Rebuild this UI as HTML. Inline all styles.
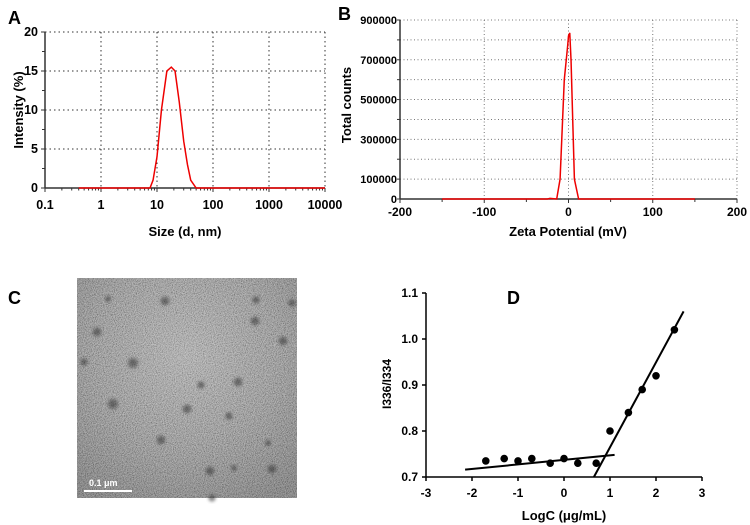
<!DOCTYPE html>
<html><head><meta charset="utf-8"><style>
body{margin:0;background:#fff;}
svg{display:block;font-family:"Liberation Sans",Arial,sans-serif;font-weight:bold;}
</style></head><body>
<svg width="750" height="525" viewBox="0 0 750 525">
<defs>
<filter id="noise" x="0" y="0" width="100%" height="100%">
<feTurbulence type="fractalNoise" baseFrequency="1.1" numOctaves="1" seed="3" result="n"/>
<feColorMatrix in="n" type="matrix" values="1.6 0 0 0 -0.3  1.6 0 0 0 -0.3  1.6 0 0 0 -0.3  0 0 0 0 1"/>
</filter>
<filter id="blur"><feGaussianBlur stdDeviation="1.2"/></filter>
<radialGradient id="pt"><stop offset="0" stop-color="#2a2a2a"/><stop offset="0.55" stop-color="#333" stop-opacity="0.75"/><stop offset="1" stop-color="#555" stop-opacity="0"/></radialGradient>
<radialGradient id="vig" cx="0.5" cy="0.35" r="0.75"><stop offset="0" stop-color="#9c9c9c"/><stop offset="1" stop-color="#6a6a6a"/></radialGradient>
</defs>
<g id="gA"></g>
<g id="gB"></g>
<g id="gC"></g>
<g id="gD"></g>
</svg>
<script>
// Panel A data (size in nm, intensity %)
const sizeA=[0.4,7.5,8.5,10,12,15,18,21,25,30,35,40,50,10000];
const intA=[0,0,1,4,10,15,15.5,15,11,6,3,1,0,0];
const aXTicks=[0.1,1,10,100,1000,10000];
const aYTicks=[0,5,10,15,20];
// Panel B data (mV, counts)
const zetaB=[-150,-25,-22,-14,-10,-5,-1,0,1.5,3,7,12,150];
const countsB=[0,0,3000,0,100000,600000,770000,820000,835000,700000,100000,0,0];
const bXTicks=[-200,-100,0,100,200];
const bYTicks=[0,100000,300000,500000,700000,900000];
// Panel D data
const logC=[-1.7,-1.3,-1,-0.7,-0.3,0,0.3,0.7,1,1.4,1.7,2,2.4];
const ratioD=[0.735,0.74,0.735,0.74,0.73,0.74,0.73,0.73,0.8,0.84,0.89,0.92,1.02];
const fit1X=[-2.15,1.1], fit1Y=[0.716,0.748];
const fit2X=[0.65,2.6], fit2Y=[0.7,1.06];
const dXTicks=[-3,-2,-1,0,1,2,3];
const dYTicks=[0.7,0.8,0.9,1.0,1.1];

const NS="http://www.w3.org/2000/svg";
function mk(p,t,a,txt){const e=document.createElementNS(NS,t);for(const k in a)e.setAttribute(k,a[k]);if(txt!==undefined)e.textContent=txt;p.appendChild(e);return e;}

// ---------- Panel A ----------
const A=document.getElementById('gA');
const axL=45,axR=325,ayT=32,ayB=188;
const ax=v=>axL+(Math.log10(v)+1)/5*(axR-axL);
const ay=v=>ayB-v/20*(ayB-ayT);
let t=mk(A,'text',{x:8,y:24,'font-size':18},'A');

aYTicks.forEach(v=>{if(v>0){const l=mk(A,'line',{x1:axL,x2:axR,y1:ay(v),y2:ay(v),stroke:'#333','stroke-dasharray':'1.5 3'});}
 mk(A,'line',{x1:axL-4,x2:axL,y1:ay(v),y2:ay(v),stroke:'#333'});
 const tx=mk(A,'text',{x:axL-7,y:ay(v)+4,'font-size':12.5,'text-anchor':'end'},String(v));});
for(let v=2.5;v<20;v+=5){mk(A,'line',{x1:axL-3,x2:axL,y1:ay(v),y2:ay(v),stroke:'#333'});}
aXTicks.forEach(v=>{if(v>0.1){const l=mk(A,'line',{x1:ax(v),x2:ax(v),y1:ayT,y2:ayB,stroke:'#333','stroke-dasharray':'1.5 3'});}
 mk(A,'line',{x1:ax(v),x2:ax(v),y1:ayB,y2:ayB+4,stroke:'#333'});
 const tx=mk(A,'text',{x:ax(v),y:209,'font-size':12.5,'text-anchor':'middle'},String(v));
 if(v<10000)for(let m=2;m<10;m++)mk(A,'line',{x1:ax(v*m),x2:ax(v*m),y1:ayB,y2:ayB+2.5,stroke:'#333'});});
mk(A,'line',{x1:axL,x2:axL,y1:ayT,y2:ayB,stroke:'#333','stroke-width':1.5});
mk(A,'line',{x1:axL,x2:axR,y1:ayB,y2:ayB,stroke:'#333','stroke-width':1.5});
let pa=mk(A,'polyline',{points:sizeA.map((s,i)=>ax(s)+','+ay(intA[i])).join(' '),fill:'none',stroke:'#e00','stroke-width':1.5});

t=mk(A,'text',{x:185,y:236,'font-size':13,'text-anchor':'middle'},'Size (d, nm)');
t=mk(A,'text',{x:0,y:0,'font-size':13,'text-anchor':'middle',transform:'translate(23,110) rotate(-90)'},'Intensity (%)');

// ---------- Panel B ----------
const B=document.getElementById('gB');
const bxL=400,bxR=737,byT=20,byB=199;
const bx=v=>bxL+(v+200)/400*(bxR-bxL);
const by=v=>byB-v/900000*(byB-byT);
t=mk(B,'text',{x:338,y:20,'font-size':18},'B');
for(let v=100000;v<=900000;v+=100000){const l=mk(B,'line',{x1:bxL,x2:bxR,y1:by(v),y2:by(v),stroke:'#777','stroke-dasharray':'1 2.5'});}
for(let v=0;v<=900000;v+=100000)mk(B,'line',{x1:bxL-3,x2:bxL,y1:by(v),y2:by(v),stroke:'#333'});
bYTicks.forEach(v=>{const tx=mk(B,'text',{x:bxL-3,y:by(v)+4,'font-size':11,'text-anchor':'end'},String(v));});
bXTicks.forEach(v=>{if(v>-200){const l=mk(B,'line',{x1:bx(v),x2:bx(v),y1:byT,y2:byB,stroke:'#777','stroke-dasharray':'1 2.5'});}
 mk(B,'line',{x1:bx(v),x2:bx(v),y1:byB,y2:byB+4,stroke:'#333'});
 const tx=mk(B,'text',{x:bx(v),y:216,'font-size':12,'text-anchor':'middle'},String(v));});
for(let v=-150;v<200;v+=100)mk(B,'line',{x1:bx(v),x2:bx(v),y1:byB,y2:byB+3,stroke:'#333'});
mk(B,'line',{x1:bxL,x2:bxL,y1:byT,y2:byB,stroke:'#333','stroke-width':1.5});
mk(B,'line',{x1:bxL,x2:bxR,y1:byB,y2:byB,stroke:'#333','stroke-width':1.5});
let pb=mk(B,'polyline',{points:zetaB.map((s,i)=>bx(s)+','+by(countsB[i])).join(' '),fill:'none',stroke:'#e00','stroke-width':1.5});

t=mk(B,'text',{x:568,y:236,'font-size':13,'text-anchor':'middle'},'Zeta Potential (mV)');
t=mk(B,'text',{x:0,y:0,'font-size':13,'text-anchor':'middle',transform:'translate(351,105) rotate(-90)'},'Total counts');

// ---------- Panel C ----------
const C=document.getElementById('gC');
t=mk(C,'text',{x:8,y:304,'font-size':18},'C');
let img=mk(C,'g',{});
mk(img,'rect',{x:77,y:278,width:220,height:220,fill:'url(#vig)'});
mk(img,'rect',{x:77,y:278,width:220,height:220,fill:'#888',filter:'url(#noise)',opacity:0.45,'style':'mix-blend-mode:overlay'});
mk(img,'rect',{x:77,y:278,width:220,height:220,fill:'#888',filter:'url(#noise)',opacity:0.18});
[[133,363,7],[238,382,6],[113,404,7],[187,409,6],[161,440,6],[210,471,6],[283,341,6],[165,301,6],[255,321,6],[97,332,6],[84,362,5],[201,385,5],[229,416,5],[272,469,6],[212,498,5],[108,299,4],[292,303,5],[256,300,5],[268,443,4],[234,468,4]].forEach(p=>mk(img,'circle',{cx:p[0],cy:p[1],r:p[2],fill:'url(#pt)',opacity:0.6,filter:'url(#blur)'}));
let sb=mk(C,'line',{x1:84,x2:132,y1:491,y2:491,stroke:'#fff','stroke-width':2});
t=mk(C,'text',{x:89,y:486,'font-size':9,fill:'#fff'},'0.1 μm');

// ---------- Panel D ----------
const D=document.getElementById('gD');
const dxL=426,dxR=702,dyT=293,dyB=477;
const dx=v=>dxL+(v+3)/6*(dxR-dxL);
const dy=v=>dyB-(v-0.7)/0.4*(dyB-dyT);
t=mk(D,'text',{x:507,y:304,'font-size':18},'D');
mk(D,'line',{x1:dxL,x2:dxL,y1:dyT,y2:dyB,stroke:'#000','stroke-width':1.5});
mk(D,'line',{x1:dxL,x2:dxR,y1:dyB,y2:dyB,stroke:'#000','stroke-width':1.5});
dYTicks.forEach(v=>{mk(D,'line',{x1:dxL-4,x2:dxL,y1:dy(v),y2:dy(v),stroke:'#000','stroke-width':1.5});
 const tx=mk(D,'text',{x:dxL-8,y:dy(v)+4,'font-size':12,'text-anchor':'end'},v.toFixed(1));});
dXTicks.forEach(v=>{mk(D,'line',{x1:dx(v),x2:dx(v),y1:dyB,y2:dyB+4,stroke:'#000','stroke-width':1.5});
 const tx=mk(D,'text',{x:dx(v),y:497,'font-size':12,'text-anchor':'middle'},String(v));});
let f1=mk(D,'line',{x1:dx(fit1X[0]),x2:dx(fit1X[1]),y1:dy(fit1Y[0]),y2:dy(fit1Y[1]),stroke:'#000','stroke-width':2});
let f2=mk(D,'line',{x1:dx(fit2X[0]),x2:dx(fit2X[1]),y1:dy(fit2Y[0]),y2:dy(fit2Y[1]),stroke:'#000','stroke-width':2});
logC.forEach((v,i)=>{const c=mk(D,'circle',{cx:dx(v),cy:dy(ratioD[i]),r:3.8,fill:'#000'});

});
t=mk(D,'text',{x:564,y:520,'font-size':13,'text-anchor':'middle'},'LogC (μg/mL)');
t=mk(D,'text',{x:0,y:0,'font-size':12,'text-anchor':'middle',transform:'translate(391,384) rotate(-90)'},'I336/I334');
</script>
</body></html>
